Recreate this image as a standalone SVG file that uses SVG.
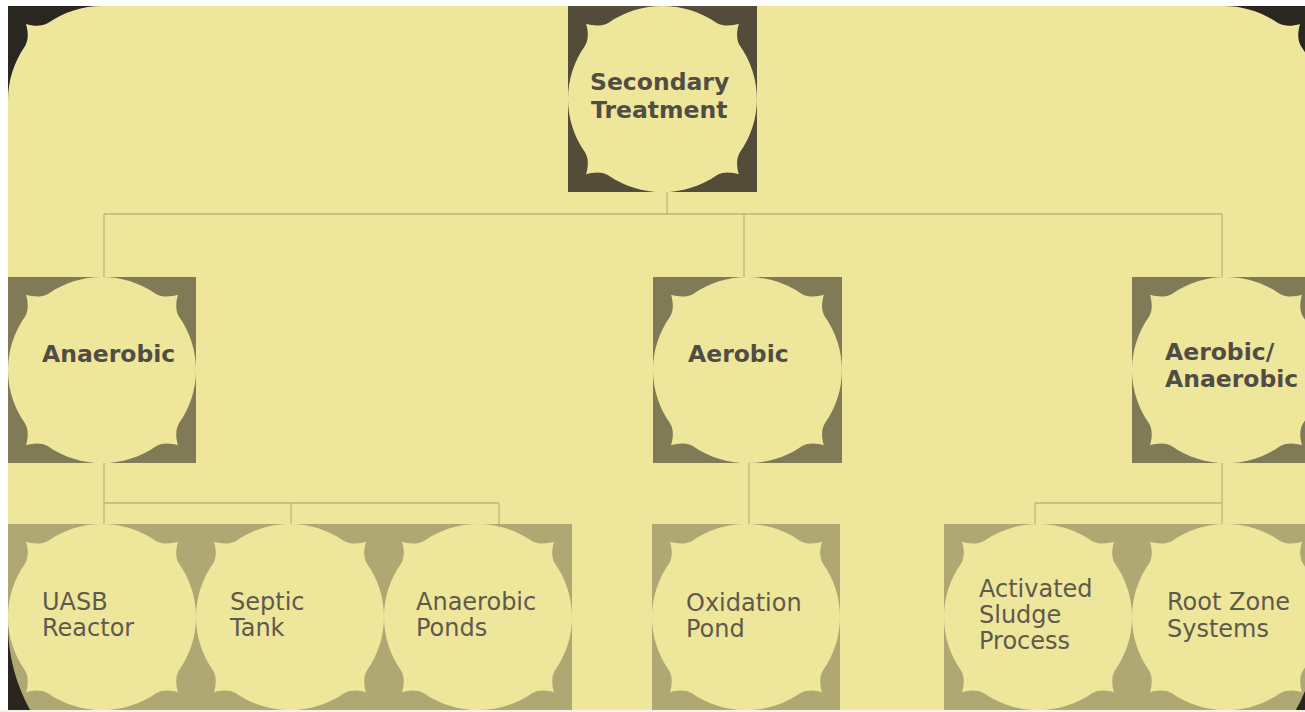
<svg xmlns="http://www.w3.org/2000/svg" xmlns:xlink="http://www.w3.org/1999/xlink" width="1305" height="712" viewBox="0 0 1305 712">
<defs>
<style>
.bg{fill:#EEE69B}
.fr{fill:#2A2620}
.l0{opacity:0.8}
.l1{opacity:0.56}
.l2{opacity:0.32}
.blob{fill:#EEE69B}
.conn{stroke:#BDB57C;stroke-width:1.3;fill:none}
.tb{font-family:"DejaVu Sans","Liberation Sans",sans-serif;font-weight:bold;font-size:23.5px;fill:#514D45}
.tr{font-family:"DejaVu Sans","Liberation Sans",sans-serif;font-size:24px;fill:#5E5A4C}
</style>
<path id="blob" d="M94,0 C74.7,0 55.8,6 40,17.1 C33,21 25,20 18,18 C20,25 21,33 17.1,40 C6,55.8 0,74.7 0,94 C0,113.3 6,132.2 17.1,148 C21,155 20,163 18,170 C25,168 33,167 40,170.9 C55.8,182 74.7,188 94,188 C113.3,188 132.2,182 148,170.9 C155,167 163,168 170,170 C168,163 167,155 170.9,148 C182,132.2 188,113.3 188,94 C188,74.7 182,55.8 170.9,40 C167,33 168,25 170,18 C163,20 155,21 148,17.1 C132.2,6 113.3,0 94,0 Z"/>
</defs>
<rect x="0" y="0" width="1305" height="712" fill="#FFFFFF"/>
<g id="frame">
<rect class="fr" x="8" y="6" width="1310" height="794"/>
<path class="bg" d="M102,6 C82.7,6 63.8,12 48,23.1 C41,27 33,26 26,24 C28,31 29,39 25.1,46 C14,61.8 8,80.7 8,100 L8,625 C8,660.9 19.2,696.1 39.8,725.5 C47.1,738.6 45.2,753.5 41.5,766.5 C54.5,762.8 69.4,760.9 82.5,768.2 C111.9,788.8 147.1,800 183,800 L1143,800 C1178.9,800 1214.1,788.8 1243.5,768.2 C1256.6,760.9 1271.5,762.8 1284.5,766.5 C1280.8,753.5 1278.9,738.6 1286.2,725.5 C1306.8,696.1 1318,660.9 1318,625 L1318,100 C1318,80.7 1312,61.8 1300.9,46 C1297,39 1298,31 1300,24 C1293,26 1285,27 1278,23.1 C1262.2,12 1243.3,6 1224,6 Z"/>
</g>
<g id="connectors">
<path class="conn" d="M667,192 V214 M104,214 H1222 M104,214 V277 M744,214 V277 M1222,214 V277"/>
<path class="conn" d="M104,463 V524 M104,503 H499 M291,503 V524 M499,503 V524"/>
<path class="conn" d="M749,463 V524"/>
<path class="conn" d="M1222,462 V524 M1035,503 H1222 M1035,503 V524"/>
</g>
<g id="n-secondary" transform="translate(568,6)">
<rect class="fr l0" width="189" height="186"/>
<use xlink:href="#blob" class="blob" transform="scale(1.005,0.99)"/>
<text class="tb" x="22" y="84">Secondary</text>
<text class="tb" x="23" y="112">Treatment</text>
</g>
<g id="n-anaerobic" transform="translate(8,277)">
<rect class="fr l1" width="188" height="186"/>
<use xlink:href="#blob" class="blob" transform="scale(1,0.99)"/>
<text class="tb" x="34" y="85">Anaerobic</text>
</g>
<g id="n-aerobic" transform="translate(653,277)">
<rect class="fr l1" width="189" height="186"/>
<use xlink:href="#blob" class="blob" transform="scale(1.005,0.99)"/>
<text class="tb" x="35" y="85">Aerobic</text>
</g>
<g id="n-aerobic-anaerobic" transform="translate(1132,277)">
<rect class="fr l1" width="188" height="186"/>
<use xlink:href="#blob" class="blob" transform="scale(1,0.99)"/>
<text class="tb" x="33" y="83">Aerobic/</text>
<text class="tb" x="33" y="110">Anaerobic</text>
</g>
<g id="n-uasb" transform="translate(8,524)">
<rect class="fr l2" width="188" height="186"/>
<use xlink:href="#blob" class="blob" transform="scale(1,0.99)"/>
<text class="tr" x="34" y="86">UASB</text>
<text class="tr" x="34" y="112">Reactor</text>
</g>
<g id="n-septic" transform="translate(196,524)">
<rect class="fr l2" width="188" height="186"/>
<use xlink:href="#blob" class="blob" transform="scale(1,0.99)"/>
<text class="tr" x="34" y="86">Septic</text>
<text class="tr" x="34" y="112">Tank</text>
</g>
<g id="n-ponds" transform="translate(384,524)">
<rect class="fr l2" width="188" height="186"/>
<use xlink:href="#blob" class="blob" transform="scale(1,0.99)"/>
<text class="tr" x="32" y="86">Anaerobic</text>
<text class="tr" x="32" y="112">Ponds</text>
</g>
<g id="n-oxidation" transform="translate(652,524)">
<rect class="fr l2" width="188" height="186"/>
<use xlink:href="#blob" class="blob" transform="scale(1,0.99)"/>
<text class="tr" x="34" y="87">Oxidation</text>
<text class="tr" x="34" y="113">Pond</text>
</g>
<g id="n-activated" transform="translate(944,524)">
<rect class="fr l2" width="188" height="186"/>
<use xlink:href="#blob" class="blob" transform="scale(1,0.99)"/>
<text class="tr" x="35" y="73">Activated</text>
<text class="tr" x="35" y="99">Sludge</text>
<text class="tr" x="35" y="125">Process</text>
</g>
<g id="n-rootzone" transform="translate(1132,524)">
<rect class="fr l2" width="188" height="186"/>
<use xlink:href="#blob" class="blob" transform="scale(1,0.99)"/>
<text class="tr" x="35" y="86">Root Zone</text>
<text class="tr" x="35" y="113">Systems</text>
</g>
<rect x="0" y="710" width="1305" height="2" fill="#F4F2EA"/>
</svg>
